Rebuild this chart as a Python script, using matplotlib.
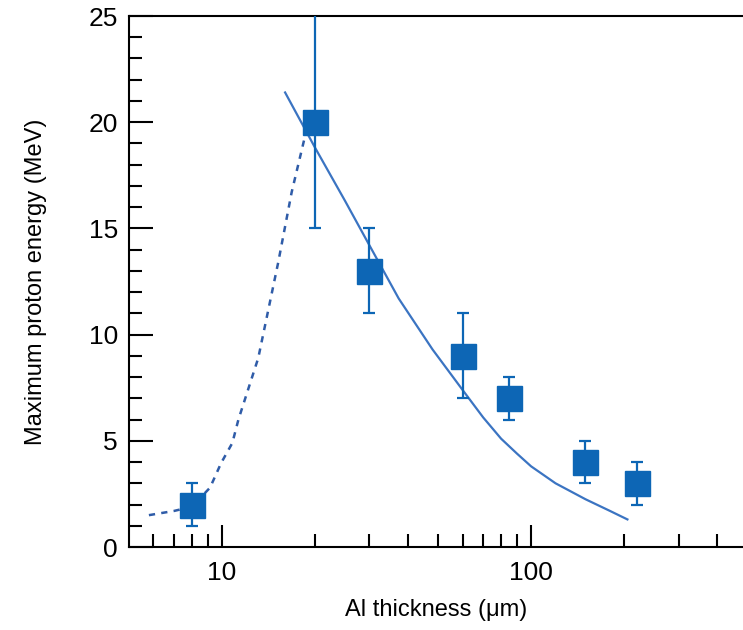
import matplotlib.pyplot as plt
from matplotlib.ticker import FixedLocator, MultipleLocator, NullFormatter
import numpy as np

plt.rcParams['font.family'] = ['Liberation Sans Narrow', 'Liberation Sans', 'DejaVu Sans']

# measured points
thick = [8, 20, 30, 60, 85, 150, 220]
energy = [2.0, 20.0, 13.0, 9.0, 7.0, 4.0, 3.0]
err_lo = [1.0, 15.0, 11.0, 7.0, 6.0, 3.0, 2.0]
err_hi = [3.0, 26.0, 15.0, 11.0, 8.0, 5.0, 4.0]

# model curve (solid)
sim_x = [16, 20, 25, 30, 37.3, 48, 60, 70, 80, 90, 100, 120, 150, 180, 205]
sim_y = [21.4, 18.8, 16.3, 14.2, 11.7, 9.3, 7.4, 6.1, 5.1, 4.4, 3.8, 3.0, 2.25, 1.7, 1.3]

# guide curve (dashed)
dash_x = [5.8, 7, 8, 9.15, 9.93, 10.8, 11.3, 13.1, 15.2, 16.8, 18.6, 19.5]
dash_y = [1.5, 1.7, 1.9, 2.8, 3.95, 4.9, 6.0, 8.9, 13.4, 16.7, 19.4, 20.0]

blue = '#0d66b5'

fig = plt.figure(figsize=(7.43, 6.30), dpi=100)
ax = fig.add_axes([0.1736, 0.1317, 0.8264, 0.8429])

ax.plot(sim_x, sim_y, color='#3b74c2', lw=1.6)
ax.plot(dash_x, dash_y, color='#2f5ca8', lw=1.8, ls=(0, (2.5, 2.5)))

yerr = [np.array(energy) - np.array(err_lo), np.array(err_hi) - np.array(energy)]
ax.errorbar(thick, energy, yerr=yerr, fmt='s', color=blue, ms=18,
            mec=blue, elinewidth=1.6, capsize=4, capthick=1.6, zorder=3)

ax.set_xscale('log')
ax.set_xlim(5, 485)
ax.set_ylim(0, 25)

ax.xaxis.set_major_locator(FixedLocator([10, 100]))
ax.xaxis.set_major_formatter(plt.FixedFormatter(['10', '100']))
ax.xaxis.set_minor_locator(FixedLocator([6, 7, 8, 9, 20, 30, 40, 50, 60, 70, 80, 90,
                                         200, 300, 400]))
ax.xaxis.set_minor_formatter(NullFormatter())
ax.yaxis.set_major_locator(MultipleLocator(5))
ax.yaxis.set_minor_locator(MultipleLocator(1))

ax.tick_params(which='major', direction='in', length=17, width=1.5, labelsize=19, pad=8)
ax.tick_params(which='minor', direction='in', length=9.5, width=1.5)
ax.tick_params(axis='x', which='major', length=16, pad=10)

for s in ['left', 'bottom', 'top']:
    ax.spines[s].set_linewidth(1.5)
ax.spines['right'].set_visible(False)

ax.set_xlabel('Al thickness (μm)', fontsize=17, labelpad=10)
ax.set_ylabel('Maximum proton energy (MeV)', fontsize=17, labelpad=30)

fig.savefig('out.png', dpi=100)
